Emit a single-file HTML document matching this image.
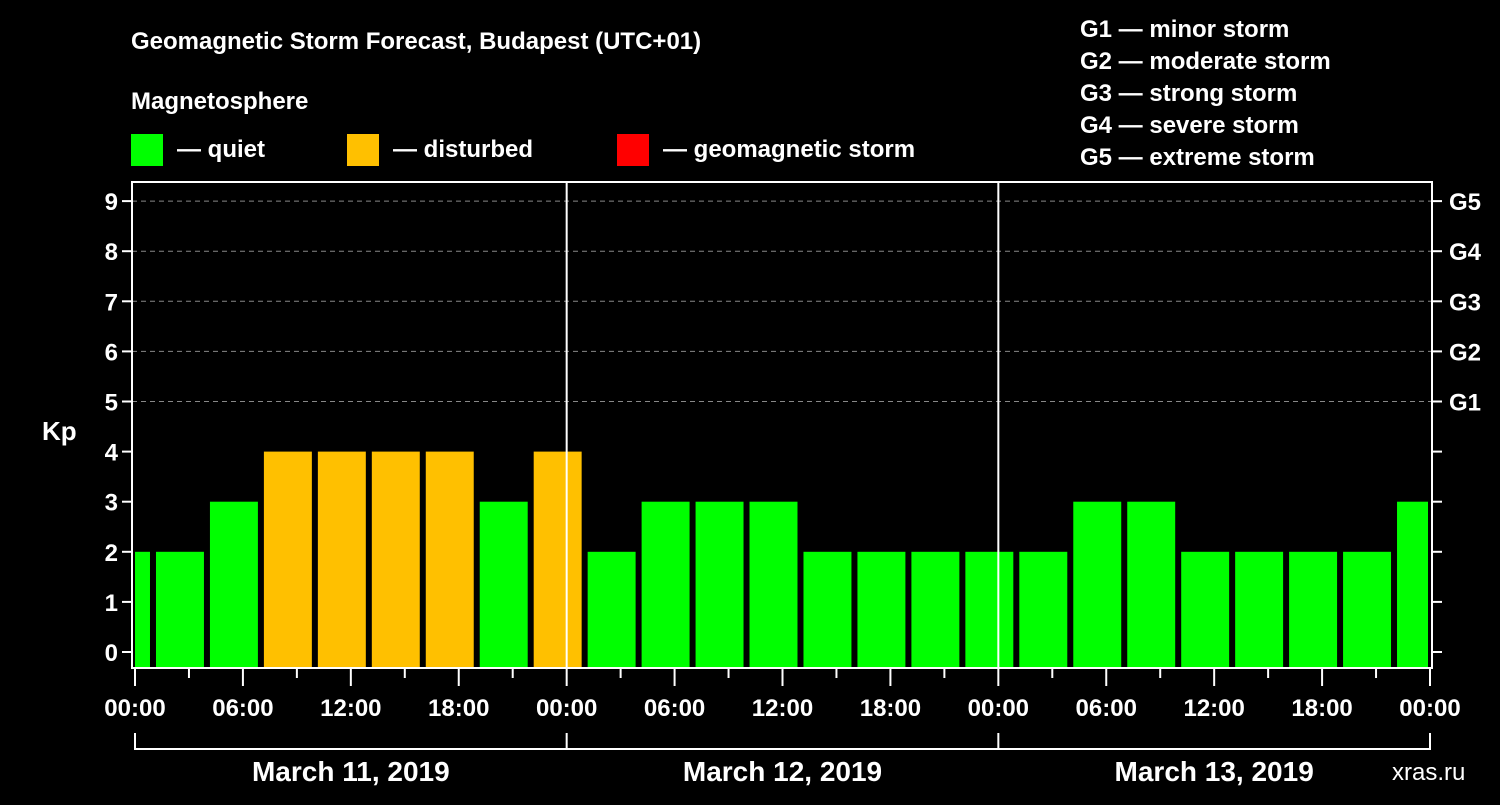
<!DOCTYPE html>
<html><head><meta charset="utf-8"><style>
body{margin:0;background:#000;}
svg text{font-family:"Liberation Sans",Arial,sans-serif;font-weight:bold;fill:#fff;}
</style></head><body>
<svg id="chart" width="1500" height="800" xmlns="http://www.w3.org/2000/svg">
<rect width="1500" height="800" fill="#000"/>
<text x="131" y="49" font-size="24">Geomagnetic Storm Forecast, Budapest (UTC+01)</text>
<text x="131" y="109" font-size="24">Magnetosphere</text>
<g>
<rect x="131" y="134" width="32" height="32" fill="#00ff00"/>
<text x="177" y="157" font-size="24">— quiet</text>
<rect x="347" y="134" width="32" height="32" fill="#ffc000"/>
<text x="393" y="157" font-size="24">— disturbed</text>
<rect x="617" y="134" width="32" height="32" fill="#ff0000"/>
<text x="663" y="157" font-size="24">— geomagnetic storm</text>
</g>
<g font-size="24">
<text x="1080" y="37">G1 — minor storm</text>
<text x="1080" y="69">G2 — moderate storm</text>
<text x="1080" y="101">G3 — strong storm</text>
<text x="1080" y="133">G4 — severe storm</text>
<text x="1080" y="165">G5 — extreme storm</text>
</g>
<text x="42" y="440" font-size="26">Kp</text>
<g id="plot"></g>
<text x="1392" y="780" font-size="24" style="font-weight:normal" fill="#aaa">xras.ru</text>
</svg>
<script>
const startHours=[-2,1,4,7,10,13,16,19,22,25,28,31,34,37,40,43,46,49,52,55,58,61,64,67,70];
const kpValues=[2,2,3,4,4,4,4,3,4,2,3,3,3,2,2,2,2,2,3,3,2,2,2,2,3];
const yTicks=[0,1,2,3,4,5,6,7,8,9];
const gLabels=["G1","G2","G3","G4","G5"];
const gLevels=[5,6,7,8,9];
const xLabels=["00:00","06:00","12:00","18:00","00:00","06:00","12:00","18:00","00:00","06:00","12:00","18:00","00:00"];
const dayLabels=["March 11, 2019","March 12, 2019","March 13, 2019"];

const L=132,R=1432,T=182,B=668,X0=135,X1=1430;
const x=h=>X0+h*(X1-X0)/72;
const y=v=>652-v*50.1;
const ns="http://www.w3.org/2000/svg";
const plot=document.getElementById('plot');
function mk(tag,attrs,parent){const e=document.createElementNS(ns,tag);for(const k in attrs)e.setAttribute(k,attrs[k]);(parent||plot).appendChild(e);return e;}
function col(v){return v<4?'#00ff00':(v<5?'#ffc000':'#ff0000');}

gLevels.forEach((g,i)=>{
 const gl=mk('line',{x1:L,x2:R,y1:y(g),y2:y(g),stroke:'#888','stroke-dasharray':'5,4','stroke-width':1});
 
 
 const t=mk('text',{x:1449,y:y(g)+9,'font-size':24});t.textContent=gLabels[i];
 
 
});
startHours.forEach((s,i)=>{
 const a=Math.max(x(s)+3,X0),b=Math.min(x(s+3)-3,X1-2);
 const r=mk('rect',{x:a,y:y(kpValues[i]),width:b-a,height:B-y(kpValues[i]),fill:col(kpValues[i])});
 
 
});
[24,48].forEach(h=>{
 const d=mk('line',{x1:x(h),x2:x(h),y1:T,y2:B,stroke:'#fff','stroke-width':2});
 
 
});
const box=mk('rect',{x:L,y:T,width:R-L,height:B-T,fill:'none',stroke:'#fff','stroke-width':2});


yTicks.forEach(v=>{
 mk('line',{x1:L-10,x2:L,y1:y(v),y2:y(v),stroke:'#fff','stroke-width':2});
 mk('line',{x1:R,x2:R+10,y1:y(v),y2:y(v),stroke:'#fff','stroke-width':2});
 const t=mk('text',{x:L-14,y:y(v)+9,'font-size':24,'text-anchor':'end'});t.textContent=v;
 
 
});
for(let h=0;h<=72;h+=3){
 const long=h%6===0;
 mk('line',{x1:x(h),x2:x(h),y1:B,y2:long?686:678,stroke:'#fff','stroke-width':2});
}
xLabels.forEach((lab,i)=>{
 const t=mk('text',{x:x(i*6),y:716,'font-size':24,'text-anchor':'middle'});t.textContent=lab;
 
 
});
mk('path',{d:`M${x(0)} 733V749H${x(72)}V733M${x(24)} 733V749M${x(48)} 733V749`,fill:'none',stroke:'#fff','stroke-width':2});
dayLabels.forEach((d,i)=>{
 const t=mk('text',{x:x(i*24+12),y:781,'font-size':28,'text-anchor':'middle'});t.textContent=d;
 
 
});
</script>
</body></html>
